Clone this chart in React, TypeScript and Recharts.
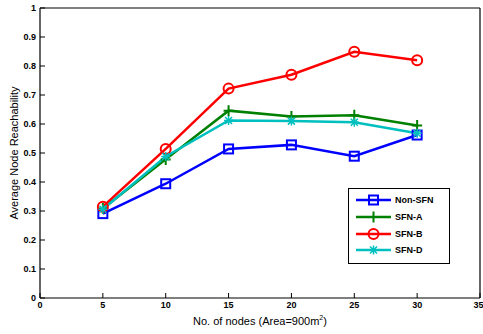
import { LineChart, Line, XAxis, YAxis, Legend } from 'recharts'

const nodes = [5, 10, 15, 20, 25, 30]
const nonSfn = [0.291, 0.394, 0.514, 0.528, 0.489, 0.562]
const sfnA = [0.309, 0.478, 0.646, 0.626, 0.63, 0.595]
const sfnB = [0.315, 0.514, 0.722, 0.77, 0.849, 0.82]
const sfnD = [0.306, 0.488, 0.612, 0.61, 0.606, 0.568]

const xTicks = [0, 5, 10, 15, 20, 25, 30, 35]
const yTicks = [0, 0.1, 0.2, 0.3, 0.4, 0.5, 0.6, 0.7, 0.8, 0.9, 1]

const series = [
  { key: 'nonSfn', name: 'Non-SFN', color: '#0000FF', marker: 'square' },
  { key: 'sfnA', name: 'SFN-A', color: '#008000', marker: 'plus' },
  { key: 'sfnB', name: 'SFN-B', color: '#FF0000', marker: 'circle' },
  { key: 'sfnD', name: 'SFN-D', color: '#00BFBF', marker: 'star' },
]

const data = nodes.map((n, i) => ({
  nodes: n,
  nonSfn: nonSfn[i],
  sfnA: sfnA[i],
  sfnB: sfnB[i],
  sfnD: sfnD[i],
}))

const FONT = '"Liberation Sans", Arial, Helvetica, sans-serif'
const tickStyle = { fontSize: 9, fontWeight: 'bold', fill: '#000', fontFamily: FONT }

function Marker({ kind, cx, cy, color }: any) {
  if (cx == null || cy == null) return null
  if (kind === 'square')
    return <rect x={cx - 4.5} y={cy - 4.5} width={9} height={9} fill="none" stroke={color} strokeWidth={2} />
  if (kind === 'circle')
    return <circle cx={cx} cy={cy} r={5} fill="none" stroke={color} strokeWidth={2} />
  if (kind === 'plus')
    return <path d={`M${cx - 5},${cy}H${cx + 5}M${cx},${cy - 5.5}V${cy + 5.5}`} stroke={color} strokeWidth={2} fill="none" />
  return (
    <path
      d={`M${cx - 3.5},${cy - 3.5}L${cx + 3.5},${cy + 3.5}M${cx - 3.5},${cy + 3.5}L${cx + 3.5},${cy - 3.5}M${cx - 4.5},${cy}H${cx + 4.5}M${cx},${cy - 4.5}V${cy + 4.5}`}
      stroke={color}
      strokeWidth={1.5}
      fill="none"
    />
  )
}

const LegendBox = () => (
  <div
    style={{
      border: '1px solid #000',
      background: '#fff',
      width: 100,
      padding: '3px 0 4px 0',
      fontFamily: FONT,
      fontSize: 9,
      fontWeight: 'bold',
    }}
  >
    {series.map((s) => (
      <div key={s.key} style={{ display: 'flex', alignItems: 'center', height: 16.7 }}>
        <svg width={46} height={14} style={{ display: 'block' }}>
          <line x1={7} y1={7} x2={42} y2={7} stroke={s.color} strokeWidth={2.5} />
          <Marker kind={s.marker} cx={24.5} cy={7} color={s.color} />
        </svg>
        <span>{s.name}</span>
      </div>
    ))}
  </div>
)

const YLabel = ({ viewBox }: any) => (
  <text
    x={viewBox.x + 18}
    y={viewBox.y + viewBox.height / 2}
    transform={`rotate(-90, ${viewBox.x + 18}, ${viewBox.y + viewBox.height / 2})`}
    textAnchor="middle"
    fontSize={11}
    fontFamily={FONT}
    fill="#000"
  >
    Average Node Reachability
  </text>
)

const XLabel = ({ viewBox }: any) => (
  <text
    x={viewBox.x + viewBox.width / 2}
    y={viewBox.y + 27}
    textAnchor="middle"
    fontSize={11}
    fontFamily={FONT}
    fill="#000"
  >
    No. of nodes (Area=900m
    <tspan fontSize={7} dy={-5}>2</tspan>
    <tspan dy={5}>)</tspan>
  </text>
)

export default function App() {
  return (
    <div style={{ position: 'absolute', left: 0, top: 0, background: '#fff' }}>
      <LineChart width={483} height={334} data={data} margin={{ top: 7, right: 2, left: 0, bottom: 0 }}>
        <XAxis
          dataKey="nodes"
          type="number"
          domain={[0, 35]}
          ticks={xTicks}
          height={36}
          tickSize={-5}
          tickMargin={9}
          tick={tickStyle}
          axisLine={{ stroke: '#000', strokeWidth: 1.2 }}
          tickLine={{ stroke: '#000' }}
          label={XLabel}
        />
        <XAxis
          xAxisId="top"
          orientation="top"
          type="number"
          domain={[0, 35]}
          ticks={xTicks}
          height={1}
          tickSize={-5}
          tick={false}
          axisLine={{ stroke: '#000', strokeWidth: 1.2 }}
          tickLine={{ stroke: '#000' }}
        />
        <YAxis
          type="number"
          domain={[0, 1]}
          ticks={yTicks}
          width={40}
          tickSize={-5}
          tickMargin={9}
          tick={tickStyle}
          axisLine={{ stroke: '#000', strokeWidth: 1.2 }}
          tickLine={{ stroke: '#000' }}
          label={YLabel}
        />
        <YAxis
          yAxisId="right"
          orientation="right"
          type="number"
          domain={[0, 1]}
          ticks={yTicks}
          width={1}
          tickSize={-5}
          tick={false}
          axisLine={{ stroke: '#000', strokeWidth: 1.2 }}
          tickLine={{ stroke: '#000' }}
        />
        <Legend
          layout="vertical"
          align="center"
          verticalAlign="middle"
          content={LegendBox}
          wrapperStyle={{ position: 'absolute', left: 348, top: 188, width: 102 }}
        />
        {series.map((s) => (
          <Line
            key={s.key}
            dataKey={s.key}
            name={s.name}
            stroke={s.color}
            strokeWidth={2.5}
            isAnimationActive={false}
            dot={(p: any) => <Marker key={`${s.key}-${p.index}`} kind={s.marker} cx={p.cx} cy={p.cy} color={s.color} />}
            activeDot={false}
          />
        ))}
      </LineChart>
    </div>
  )
}
